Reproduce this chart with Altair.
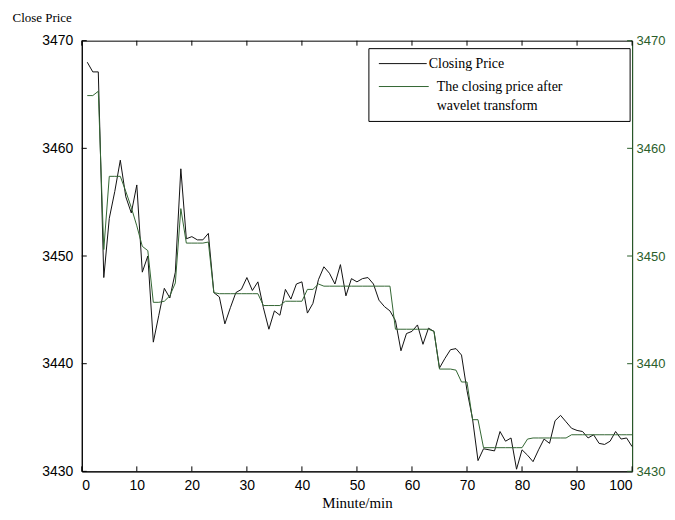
import altair as alt
import pandas as pd

minutes = list(range(1, 101))
closing = [
    3468.0, 3467.1, 3467.1, 3448.0, 3453.5, 3456.0, 3458.9, 3455.5, 3454.0, 3456.6,
    3448.5, 3450.0, 3442.0, 3444.5, 3447.0, 3446.1, 3448.5, 3458.1, 3451.6, 3451.8,
    3451.5, 3451.5, 3452.1, 3446.6, 3446.2, 3443.7, 3445.2, 3446.6, 3446.9, 3448.0,
    3446.8, 3447.6, 3445.2, 3443.2, 3444.9, 3444.5, 3446.9, 3446.0, 3447.4, 3447.6,
    3444.7, 3445.6, 3447.8, 3449.0, 3448.4, 3447.4, 3449.2, 3446.3, 3447.9, 3447.6,
    3447.9, 3448.0, 3447.4, 3445.9, 3445.3, 3444.9, 3444.0, 3441.2, 3442.8, 3443.0,
    3443.6, 3441.8, 3443.3, 3443.0, 3439.6, 3440.5, 3441.3, 3441.4, 3440.8, 3437.5,
    3434.9, 3431.0, 3432.1, 3432.0, 3431.9, 3433.7, 3432.8, 3433.1, 3430.2, 3432.0,
    3431.5, 3430.9, 3432.0, 3433.0, 3432.6, 3434.7, 3435.2, 3434.6, 3434.0, 3433.8,
    3433.7, 3433.1, 3433.4, 3432.6, 3432.5, 3432.8, 3433.7, 3433.0, 3433.1, 3432.3,
]
wavelet = [
    3464.9, 3464.9, 3465.3, 3450.6, 3457.4, 3457.4, 3457.4, 3456.0, 3454.5, 3452.8,
    3450.9, 3450.5, 3445.7, 3445.7, 3445.8, 3446.3, 3447.5, 3454.4, 3451.2, 3451.2,
    3451.2, 3451.2, 3451.3, 3446.6, 3446.5, 3446.5, 3446.5, 3446.5, 3446.5, 3446.5,
    3446.5, 3446.5, 3445.4, 3445.4, 3445.4, 3445.4, 3445.8, 3445.8, 3445.8, 3445.8,
    3446.9, 3446.9, 3447.4, 3447.2, 3447.2, 3447.2, 3447.2, 3447.2, 3447.2, 3447.2,
    3447.2, 3447.2, 3447.2, 3447.2, 3447.2, 3447.2, 3443.2, 3443.2, 3443.2, 3443.2,
    3443.2, 3443.2, 3443.2, 3443.0, 3439.5, 3439.5, 3439.5, 3439.4, 3438.3, 3438.3,
    3434.8, 3434.8, 3432.2, 3432.2, 3432.2, 3432.2, 3432.2, 3432.2, 3432.2, 3432.2,
    3433.0, 3433.1, 3433.1, 3433.1, 3433.1, 3433.1, 3433.1, 3433.1, 3433.4, 3433.4,
    3433.4, 3433.4, 3433.4, 3433.4, 3433.4, 3433.4, 3433.4, 3433.4, 3433.4, 3433.4,
]
x_ticks = list(range(0, 101, 10))
y_ticks = [3430, 3440, 3450, 3460, 3470]
legend_labels = ["Closing Price", "The closing price after", "wavelet transform"]

BLACK = "#111111"
GREEN = "#336633"
AXGREEN = "#2b5e2b"
SANS = "Liberation Sans"
SERIF = "Liberation Serif"

W, H = 552, 432

df_close = pd.DataFrame({"minute": minutes, "price": closing})
df_wave = pd.DataFrame({"minute": minutes, "price": wavelet})
df_xt = pd.DataFrame({"minute": x_ticks})
df_yt = pd.DataFrame({"price": y_ticks})
one = pd.DataFrame({"k": [0]})

xs = alt.Scale(domain=[0, 100], nice=False, zero=False)
ys = alt.Scale(domain=[3430, 3470], nice=False, zero=False)

x_axis = alt.Axis(values=x_ticks, ticks=False, tickSize=0, grid=False,
                  labelFont=SANS, labelFontSize=14, labelColor="black", labelPadding=7,
                  domainColor="black", title="Minute/min", titleFont=SERIF,
                  titleFontSize=15, titleFontWeight="normal", titleColor="black",
                  titlePadding=3)
left_axis = alt.Axis(values=y_ticks, ticks=False, tickSize=0, grid=False,
                     labelFont=SANS, labelFontSize=14, labelColor="black", labelPadding=9,
                     domainColor="black", title="Close Price", titleFont=SERIF,
                     titleFontSize=13, titleFontWeight="normal", titleColor="black",
                     titleAngle=0, titleAlign="left", titleBaseline="middle",
                     titleX=-70, titleY=-23, format="d")
right_axis = alt.Axis(values=y_ticks, ticks=False, tickSize=0, grid=False, orient="right",
                      labelFont=SANS, labelFontSize=13, labelColor=AXGREEN, labelPadding=4,
                      domainColor=AXGREEN, title=None, format="d")

X = alt.X("minute:Q", scale=xs, axis=x_axis)

line_close = alt.Chart(df_close).mark_line(color=BLACK, strokeWidth=1).encode(
    x=X,
    y=alt.Y("price:Q", scale=ys, axis=left_axis),
)
line_wave = alt.Chart(df_wave).mark_line(color=GREEN, strokeWidth=1).encode(
    x=X,
    y=alt.Y("price:Q", scale=ys, axis=None),
)
right_ticks = alt.Chart(df_yt).mark_rule(color=AXGREEN, strokeWidth=1).encode(
    y=alt.Y("price:Q", scale=ys, axis=right_axis),
    x=alt.value(W), x2=alt.value(W - 5),
)
left_ticks = alt.Chart(df_yt).mark_rule(color="black", strokeWidth=1).encode(
    y=alt.Y("price:Q", scale=ys, axis=None),
    x=alt.value(0), x2=alt.value(5),
)
bottom_ticks = alt.Chart(df_xt).mark_rule(color="black", strokeWidth=1).encode(
    x=X,
    y=alt.value(H), y2=alt.value(H - 5),
)
top_ticks = alt.Chart(df_xt).mark_rule(color="black", strokeWidth=1).encode(
    x=X,
    y=alt.value(0), y2=alt.value(5),
)

leg_box = alt.Chart(one).mark_rect(fill="white", stroke="black", strokeWidth=1).encode(
    x=alt.value(288), x2=alt.value(550), y=alt.value(8), y2=alt.value(81),
)
leg_l1 = alt.Chart(one).mark_rule(color=BLACK, strokeWidth=1).encode(
    x=alt.value(298), x2=alt.value(346), y=alt.value(23),
)
leg_l2 = alt.Chart(one).mark_rule(color=GREEN, strokeWidth=1).encode(
    x=alt.value(298), x2=alt.value(348), y=alt.value(46),
)
txt_kw = dict(font=SERIF, fontSize=14, color="black", align="left", baseline="middle")
leg_t1 = alt.Chart(one).mark_text(text=legend_labels[0], **txt_kw).encode(
    x=alt.value(348), y=alt.value(23))
leg_t2 = alt.Chart(one).mark_text(text=legend_labels[1], **txt_kw).encode(
    x=alt.value(356), y=alt.value(46))
leg_t3 = alt.Chart(one).mark_text(text=legend_labels[2], **txt_kw).encode(
    x=alt.value(356), y=alt.value(66))

chart = alt.layer(
    line_close, line_wave, right_ticks, left_ticks, bottom_ticks, top_ticks,
    leg_box, leg_l1, leg_l2, leg_t1, leg_t2, leg_t3,
).resolve_axis(y="independent").properties(
    width=W, height=H,
    autosize=alt.AutoSizeParams(type="none"),
    padding={"left": 74, "top": 32, "right": 35, "bottom": 42},
    background="white",
).configure_view(stroke="black", strokeWidth=1)

chart.save("out.html", embed_options={"renderer": "svg", "actions": False})
